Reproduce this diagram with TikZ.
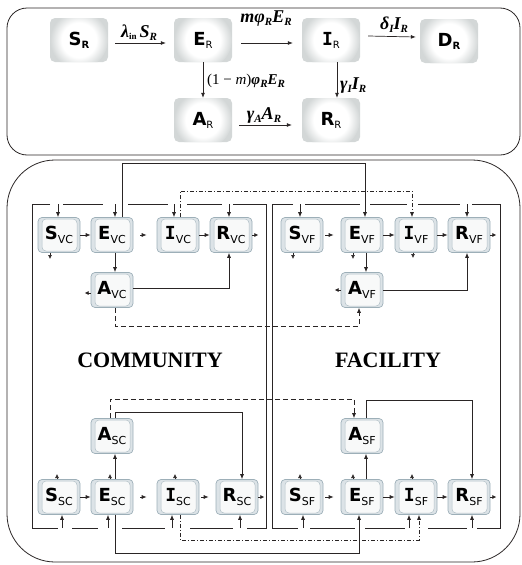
\documentclass[tikz,border=0pt]{standalone}
\usepackage{fontspec}
\setmainfont{Liberation Serif}
\newfontfamily\nodefont{DejaVu Sans}
\newfontfamily\nodemono{DejaVu Sans Mono}
\usetikzlibrary{arrows.meta,calc}
\definecolor{linec}{HTML}{2A2525}
\definecolor{topfill}{HTML}{D3D7D7}
\definecolor{bfill}{HTML}{DCE3E7}
\definecolor{bdraw}{HTML}{9DAFB8}
\definecolor{binner}{HTML}{F8F9F9}
\pgfdeclareradialshading{glow}{\pgfpoint{0bp}{0bp}}{color(0bp)=(white); color(15bp)=(white); color(25bp)=(topfill); color(50bp)=(topfill)}
\newcommand{\tlab}[2]{{\nodefont\bfseries #1}{\nodefont\fontsize{10}{10}\selectfont\raisebox{-3pt}{#2}}}
\newcommand{\blab}[2]{{\nodefont\bfseries #1}{\nodefont\fontsize{11}{11}\selectfont\raisebox{-4pt}{#2}}}
\newcommand{\serifI}{{\nodemono\bfseries I}}
\newcommand{\bi}[1]{{\bfseries\itshape #1}}
\newcommand{\sbi}[1]{\raisebox{-3pt}{\fontsize{11}{11}\selectfont\bfseries\itshape #1}}
\newcommand{\sbu}[1]{\raisebox{-2pt}{\fontsize{9}{9}\selectfont\bfseries #1}}
\tikzset{
  topbox/.style={rectangle, rounded corners=5pt, minimum width=58pt, minimum height=44pt,
    fill=topfill, inner sep=0pt, font=\fontsize{18}{18}\selectfont,
    path picture={\shade[shading=glow] (path picture bounding box.center) circle (29pt);}},
  bbox/.style={rectangle, rounded corners=4pt, minimum width=42pt, minimum height=35pt,
    fill=bfill, draw=bdraw, line width=0.7pt, inner sep=0pt, font=\fontsize{18}{18}\selectfont,
    path picture={\draw[bdraw!80, line width=0.5pt, fill=binner, rounded corners=4pt]
      ([xshift=4pt,yshift=1.5pt]path picture bounding box.south west) rectangle
      ([xshift=-3pt,yshift=-1.5pt]path picture bounding box.north east);}},
  lnst/.style={draw=linec, line width=0.7pt},
  arr/.style={draw=linec, line width=0.7pt, -{Latex[length=5pt,width=4pt]}},
  stub/.style={draw=linec, line width=0.6pt, -{Latex[length=4pt,width=4pt]}},
  dashd/.style={dash pattern=on 5pt off 3pt},
  dashdt/.style={dash pattern=on 4pt off 2pt on 1pt off 2pt},
  mlab/.style={font=\fontsize{18}{18}\selectfont, inner sep=1pt},
  slab/.style={font=\fontsize{15}{16}\selectfont, inner sep=1pt},
  region/.style={font=\fontsize{22}{22}\selectfont\bfseries}
}
\begin{document}
\begin{tikzpicture}[x=1pt,y=-1pt]
\useasboundingbox (0,0) rectangle (522,565);
% panels
\draw[linec, line width=0.8pt, rounded corners=20pt] (7,8) rectangle (520,155);
\draw[linec, line width=0.8pt, rounded corners=48pt] (7,160) rectangle (520,562);

% ---------- top panel ----------
\node[topbox] (SR) at (79,40) {\tlab{S}{\bfseries R}};
\node[topbox] (ER) at (203,40) {\tlab{E}{R}};
\node[topbox] (IR) at (331,40) {\serifI\tlab{}{R}};
\node[topbox] (DR) at (449,41) {\tlab{D}{\bfseries R}};
\node[topbox] (AR) at (203,120) {\tlab{A}{R}};
\node[topbox] (RR) at (331,120) {\tlab{R}{R}};

\draw[arr] ($(SR.east)+(7,3)$) -- ($(ER.west)+(-8,3)$);
\node[mlab] (l1) at (139,33) {\bi{λ}\sbu{in}\,\bi{S}\sbi{R}};
\draw[arr] ($(ER.east)+(9,3)$) -- ($(IR.west)+(-9,3)$);
\node[mlab] (l2) at (266,19) {\bi{mφ}\sbi{R}\bi{E}\sbi{R}};
\draw[arr] ($(IR.east)+(8,-4)$) -- ($(DR.west)+(-4,-4)$);
\node[mlab] (l3) at (394,25) {\bi{δ}\sbi{I}\bi{I}\sbi{R}};
\draw[arr] (ER.south) -- (AR.north);
\node[slab, anchor=west] (l4) at (206,81) {(1 − \textit{m})\bi{φ}\sbi{R}\bi{E}\sbi{R}};
\draw[arr] ($(IR.south)+(6,0)$) -- ($(RR.north)+(6,0)$);
\node[mlab, anchor=west] (l5) at (339,86) {\bi{γ}\sbi{I}\bi{I}\sbi{R}};
\draw[arr] ($(AR.east)+(7,5)$) -- ($(RR.west)+(-10,5)$);
\node[mlab] (l6) at (264,115) {\bi{γ}\sbi{A}\bi{A}\sbi{R}};

% ---------- bottom panel nodes ----------
\node[bbox] (svc) at (59,235) {\blab{S}{VC}};
\node[bbox] (evc) at (112,235) {\blab{E}{VC}};
\node[bbox] (ivc) at (178,235) {\serifI\blab{}{VC}};
\node[bbox] (rvc) at (231,235) {\blab{R}{VC}};
\node[bbox] (avc) at (112,290) {\blab{A}{VC}};

\node[bbox] (svf) at (302,235) {\blab{S}{VF}};
\node[bbox] (evf) at (362,235) {\blab{E}{VF}};
\node[bbox] (ivf) at (416,235) {\serifI\blab{}{VF}};
\node[bbox] (rvf) at (469,235) {\blab{R}{VF}};
\node[bbox] (avf) at (362,290) {\blab{A}{VF}};

\node[bbox] (asc) at (112,436) {\blab{A}{SC}};
\node[bbox] (ssc) at (59,497) {\blab{S}{SC}};
\node[bbox] (esc) at (112,497) {\blab{E}{SC}};
\node[bbox] (isc) at (178,497) {\serifI\blab{}{SC}};
\node[bbox] (rsc) at (237,497) {\blab{R}{SC}};

\node[bbox] (asf) at (362,436) {\blab{A}{SF}};
\node[bbox] (ssf) at (302,497) {\blab{S}{SF}};
\node[bbox] (esf) at (362,497) {\blab{E}{SF}};
\node[bbox] (isf) at (416,497) {\serifI\blab{}{SF}};
\node[bbox] (rsf) at (469,497) {\blab{R}{SF}};

\node[region] (comm) at (150,360) {COMMUNITY};
\node[region] (fac) at (388,360) {FACILITY};

% ---------- loops ----------
\draw[lnst] (50,204) -- (32,204) -- (32,528) -- (58,528);
\draw[lnst] (63,204) -- (103,204) (128,204) -- (168,204) (187,204) -- (222,204);
\draw[lnst] (233,204) -- (266,204) -- (266,528) -- (247,528);
\draw[lnst] (72,528) -- (98,528) (122,528) -- (165,528) (190,528) -- (233,528);

\draw[lnst] (293,204) -- (272,204) -- (272,528) -- (298,528);
\draw[lnst] (305,204) -- (360,204) (370,204) -- (407,204) (418,204) -- (460,204);
\draw[lnst] (472,204) -- (500,204) -- (500,528) -- (477,528);
\draw[lnst] (310,528) -- (355,528) (365,528) -- (405,528) (428,528) -- (467,528);

% loop arrows
\draw[arr] (58,204) -- (58,0 |- svc.north);
\draw[arr] (115,204) -- (115,0 |- evc.north);
\draw[arr] (174,204) -- (174,0 |- ivc.north);
\draw[arr] (229,204) -- (229,0 |- rvc.north);
\draw[arr] (300,204) -- (300,0 |- svf.north);
\draw[arr] (467,204) -- (467,0 |- rvf.north);
\draw[arr] (62,528) -- (62,0 |- ssc.south);
\draw[arr] (108,528) -- (108,0 |- esc.south);
\draw[arr] (172,528) -- (172,0 |- isc.south);
\draw[arr] (240,528) -- (240,0 |- rsc.south);
\draw[arr] (303,528) -- (303,0 |- ssf.south);
\draw[arr] (409,528) -- (409,0 |- isf.south);
\draw[arr] (472,528) -- (472,0 |- rsf.south);

% ---------- row transitions ----------
\draw[arr] (svc.east) -- (evc.west);
\draw[arr] ($(evc.east)+(7,0)$) -- ($(ivc.west)+(-10,0)$);
\draw[arr] (ivc.east) -- (rvc.west);
\draw[stub] (rvc.east) -- ++(6,0);
\draw[stub] (50,0 |- svc.south) -- (50,259);
\draw[arr] (115,0 |- evc.south) -- (115,0 |- avc.north);
\draw[stub] ($(avc.west)+(0,3)$) -- ++(-6,0);
\draw[arr] ($(avc.east)+(0,-2)$) -| (229,0 |- rvc.south);

\draw[arr] ($(svf.east)+(2,0)$) -- ($(evf.west)+(-7,0)$);
\draw[arr] (evf.east) -- (ivf.west);
\draw[arr] (ivf.east) -- (rvf.west);
\draw[stub] (rvf.east) -- ++(6,0);
\draw[stub] (293,0 |- svf.south) -- (293,259);
\draw[stub] (353,0 |- evf.south) -- (353,259);
\draw[stub] (413,0 |- ivf.south) -- (413,258);
\draw[arr] (366,0 |- evf.south) -- (366,0 |- avf.north);
\draw[stub] (avf.west) -- ++(-6,0);
\draw[arr] (avf.east) -| (467,0 |- rvf.south);

\draw[arr] (ssc.east) -- (esc.west);
\draw[arr] ($(esc.east)+(7,0)$) -- ($(isc.west)+(-10,0)$);
\draw[arr] ($(isc.east)+(2,0)$) -- ($(rsc.west)+(-7,0)$);
\draw[stub] (rsc.east) -- ++(6,0);
\draw[stub] (57,0 |- ssc.north) -- (57,474);
\draw[stub] (110,0 |- esc.north) -- (110,474);
\draw[stub] (175,0 |- isc.north) -- (175,474);
\draw[arr] (115,0 |- esc.north) -- (115,0 |- asc.south);
\draw[arr] (115,0 |- asc.north) -- (115,412) -- (242,412) -- (242,0 |- rsc.north);

\draw[arr] ($(ssf.east)+(2,0)$) -- ($(esf.west)+(-7,0)$);
\draw[arr] (esf.east) -- (isf.west);
\draw[arr] (isf.east) -- (rsf.west);
\draw[stub] (rsf.east) -- ++(6,0);
\draw[stub] (300,0 |- ssf.north) -- (300,474);
\draw[stub] (353,0 |- esf.north) -- (353,474);
\draw[stub] (412,0 |- isf.north) -- (412,474);
\draw[arr] (366,0 |- esf.north) -- (366,0 |- asf.south);
\draw[arr] (366,0 |- asf.north) -- (366,400) -- (472,400) -- (472,0 |- rsf.north);

% ---------- cross connections ----------
\draw[arr] (122,0 |- evc.north) -- (122,163) -- (365,163) -- (365,0 |- evf.north);
\draw[arr, dashdt] (180,0 |- ivc.north) -- (180,191) -- (412,191) -- (412,0 |- ivf.north);
\draw[arr, dashd] (115,0 |- avc.south) -- (115,326) -- (359,326) -- (359,0 |- avf.south);
\draw[arr, dashd] (110,0 |- asc.north) -- (110,399) -- (354,399) -- (354,0 |- asf.north);
\draw[arr] (115,0 |- esc.south) -- (115,553) -- (359,553) -- (359,0 |- esf.south);
\draw[arr, dashdt] (180,0 |- isc.south) -- (180,540) -- (419,540) -- (419,0 |- isf.south);
\end{tikzpicture}
\end{document}
